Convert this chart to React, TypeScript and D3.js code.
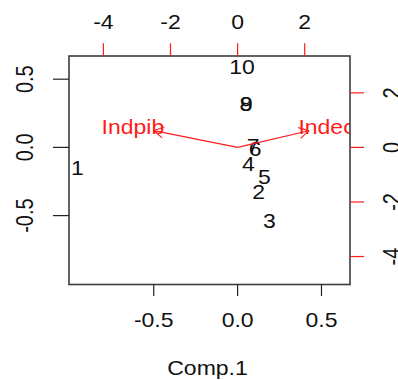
import React from "react";
import * as d3 from "d3";

// PCA biplot: observation scores (Comp.1 / Comp.2) and variable loadings
const obsLabels = ["1", "2", "3", "4", "5", "6", "7", "8", "9", "10"];
const comp1 = [-0.955, 0.125, 0.19, 0.065, 0.159, 0.105, 0.093, 0.05, 0.052, 0.026];
const comp2 = [-0.152, -0.329, -0.537, -0.12, -0.213, -0.007, 0.015, 0.316, 0.318, 0.59];

const varNames = ["Indpib", "Indec"];
const loadX = [-3.12, 2.65];
const loadY = [0.77, 0.76];

const scoreTicks = [-0.5, 0.0, 0.5];
const loadTicks = [-4, -2, 0, 2];

const scoreLim: [number, number] = [-1.005, 0.67];
const loadRatio = 5.0;
const arrowFrac = 0.8;

const W = 398;
const H = 380;
const box = { left: 69, right: 350, top: 56, bottom: 284.5 };

const FONT = "'Liberation Sans', Arial, Helvetica, sans-serif";
const FS = 20;
const SX = 1.15; // horizontal stretch of glyphs
const RED = "#ff1a1a";

function Label({
  x,
  y,
  text,
  rotate = false,
  fill = "#111",
  anchor = "middle",
}: {
  x: number;
  y: number;
  text: string;
  rotate?: boolean;
  fill?: string;
  anchor?: string;
}) {
  const t = rotate
    ? `translate(${x},${y}) scale(${SX},1) rotate(-90)`
    : `translate(${x},${y}) scale(${SX},1)`;
  return (
    <text
      transform={t}
      textAnchor={anchor as any}
      fontFamily={FONT}
      fontSize={FS}
      fill={fill}
    >
      {text}
    </text>
  );
}

// tick label with an ASCII hyphen for negatives
const fmt1 = (v: number) => v.toFixed(1);

export default function App() {
  const x = d3.scaleLinear().domain(scoreLim).range([box.left, box.right]);
  const y = d3.scaleLinear().domain(scoreLim).range([box.bottom, box.top]);
  const loadLim = scoreLim.map((v) => v * loadRatio) as [number, number];
  const x2 = d3.scaleLinear().domain(loadLim).range([box.left, box.right]);
  const y2 = d3.scaleLinear().domain(loadLim).range([box.bottom, box.top]);

  const vShift = FS * 0.36; // vertically centre digits on their anchor

  const arrows = varNames.map((name, i) => {
    const ox = x2(0);
    const oy = y2(0);
    const tx = x2(loadX[i] * arrowFrac);
    const ty = y2(loadY[i] * arrowFrac);
    const ang = Math.atan2(oy - ty, ox - tx);
    const len = 11;
    const a = Math.PI / 6;
    const b1 = [tx + len * Math.cos(ang + a), ty + len * Math.sin(ang + a)];
    const b2 = [tx + len * Math.cos(ang - a), ty + len * Math.sin(ang - a)];
    return { name, ox, oy, tx, ty, b1, b2, lx: x2(loadX[i]), ly: y2(loadY[i]) };
  });

  return (
    <svg
      width={W}
      height={H}
      style={{ position: "absolute", left: 0, top: 0, background: "#fff" }}
    >
      <defs>
        <clipPath id="plotClip">
          <rect
            x={box.left}
            y={box.top}
            width={box.right - box.left}
            height={box.bottom - box.top}
          />
        </clipPath>
      </defs>

      {/* observation labels */}
      <g clipPath="url(#plotClip)">
        {obsLabels.map((lab, i) => (
          <Label key={lab} x={x(comp1[i])} y={y(comp2[i]) + vShift} text={lab} />
        ))}
      </g>

      {/* loading arrows and variable names */}
      <g clipPath="url(#plotClip)">
        {arrows.map((a) => (
          <g key={a.name}>
            <line x1={a.ox} y1={a.oy} x2={a.tx} y2={a.ty} stroke={RED} strokeWidth={1.1} />
            <polyline
              points={`${a.b1[0]},${a.b1[1]} ${a.tx},${a.ty} ${a.b2[0]},${a.b2[1]}`}
              fill="none"
              stroke={RED}
              strokeWidth={1.1}
            />
            <Label x={a.lx} y={a.ly + vShift} text={a.name} fill={RED} />
          </g>
        ))}
      </g>

      {/* plot frame */}
      <rect
        x={box.left}
        y={box.top}
        width={box.right - box.left}
        height={box.bottom - box.top}
        fill="none"
        stroke="#3c3c3c"
        strokeWidth={1.6}
      />

      {/* bottom axis: Comp.1 scores */}
      {scoreTicks.map((t) => (
        <g key={`b${t}`}>
          <line x1={x(t)} x2={x(t)} y1={box.bottom} y2={box.bottom + 11.5} stroke="#222" strokeWidth={1.2} />
          <Label x={x(t)} y={327} text={fmt1(t)} />
        </g>
      ))}

      {/* left axis: Comp.2 scores */}
      {scoreTicks.map((t) => (
        <g key={`l${t}`}>
          <line x1={box.left - 16} x2={box.left} y1={y(t)} y2={y(t)} stroke="#222" strokeWidth={1.2} />
          <Label x={33} y={y(t)} text={fmt1(t)} rotate />
        </g>
      ))}

      {/* top axis: loadings */}
      {loadTicks.map((t) => (
        <g key={`t${t}`}>
          <line x1={x2(t)} x2={x2(t)} y1={box.top - 12.7} y2={box.top} stroke={RED} strokeWidth={1.2} />
          <Label x={x2(t)} y={28.5} text={String(t)} />
        </g>
      ))}

      {/* right axis: loadings */}
      {loadTicks.map((t) => (
        <g key={`r${t}`}>
          <line x1={box.right} x2={box.right + 14} y1={y2(t)} y2={y2(t)} stroke={RED} strokeWidth={1.2} />
          <Label x={399.5} y={y2(t)} text={String(t)} rotate />
        </g>
      ))}

      <Label x={(box.left + box.right) / 2 - 2} y={375} text="Comp.1" />
    </svg>
  );
}
